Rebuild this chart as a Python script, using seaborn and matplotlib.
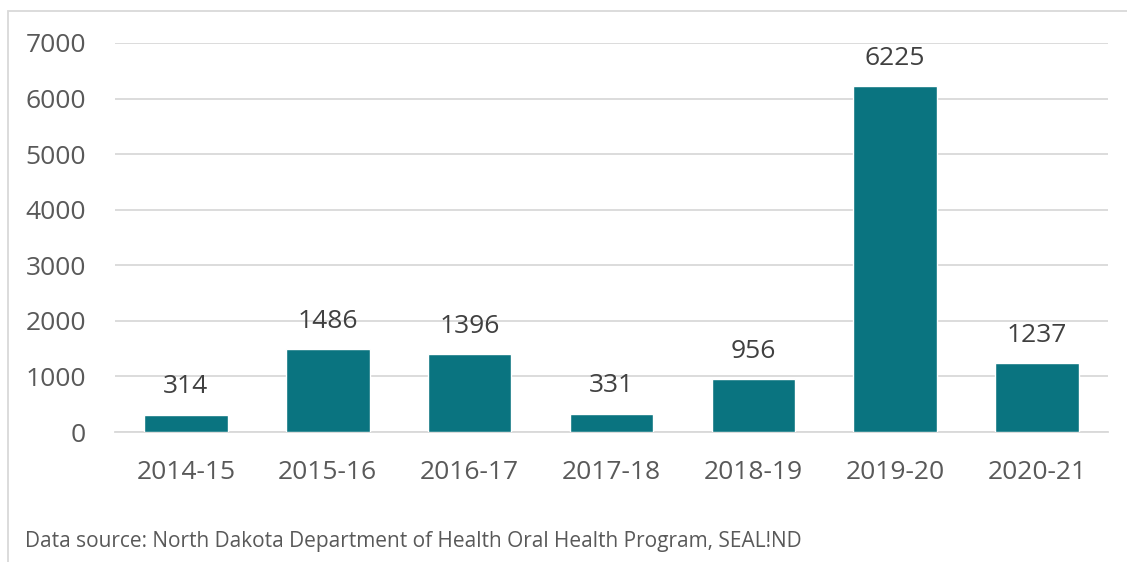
import matplotlib
matplotlib.use("Agg")
import matplotlib.pyplot as plt
import matplotlib.patches as patches
import pandas as pd
import seaborn as sns

years = ["2014-15", "2015-16", "2016-17", "2017-18", "2018-19", "2019-20", "2020-21"]
counts = [314, 1486, 1396, 331, 956, 6225, 1237]
yticks = [0, 1000, 2000, 3000, 4000, 5000, 6000, 7000]

df = pd.DataFrame({"year": years, "count": counts})

sns.set_theme(style="white")
plt.rcParams["font.family"] = ["Open Sans", "DejaVu Sans"]

bar_color = "#0A7480"
grid_color = "#D9D9D9"

fig = plt.figure(figsize=(11.27, 5.62), dpi=100)
ax = fig.add_axes([115 / 1127, 130 / 562, 993 / 1127, 389 / 562])

sns.barplot(data=df, x="year", y="count", color=bar_color, width=0.59,
            saturation=1, ax=ax, zorder=3)

ax.set_ylim(0, 7000)
ax.set_xlim(-0.5, len(years) - 0.5)
ax.set_yticks(yticks)
ax.set_yticklabels([str(t) for t in yticks])
ax.yaxis.grid(True, color=grid_color, linewidth=1.3, zorder=0)
ax.set_xlabel("")
ax.set_ylabel("")
for s in ["top", "right", "left"]:
    ax.spines[s].set_visible(False)
ax.spines["bottom"].set_color(grid_color)
ax.spines["bottom"].set_linewidth(1.3)
ax.tick_params(axis="y", length=0, pad=21, labelsize=19, labelcolor="#595959")
ax.tick_params(axis="x", length=0, pad=20, labelsize=19, labelcolor="#595959")

# value labels
for i, v in enumerate(counts):
    ax.annotate(str(v), (i, v), xytext=(0, 11), textcoords="offset points",
                ha="center", va="bottom", fontsize=19, color="#404040")

# figure frame
fig.patches.append(patches.Rectangle((8 / 1127, -0.1), 1.2, (562 - 11) / 562 + 0.1,
                                     transform=fig.transFigure, fill=False,
                                     edgecolor=grid_color, linewidth=1.3))

fig.text(25 / 1127, 1 - 541 / 562,
         "Data source: North Dakota Department of Health Oral Health Program, SEAL!ND",
         fontsize=15, color="#595959", ha="left", va="center")

fig.savefig("out.png", dpi=100)
